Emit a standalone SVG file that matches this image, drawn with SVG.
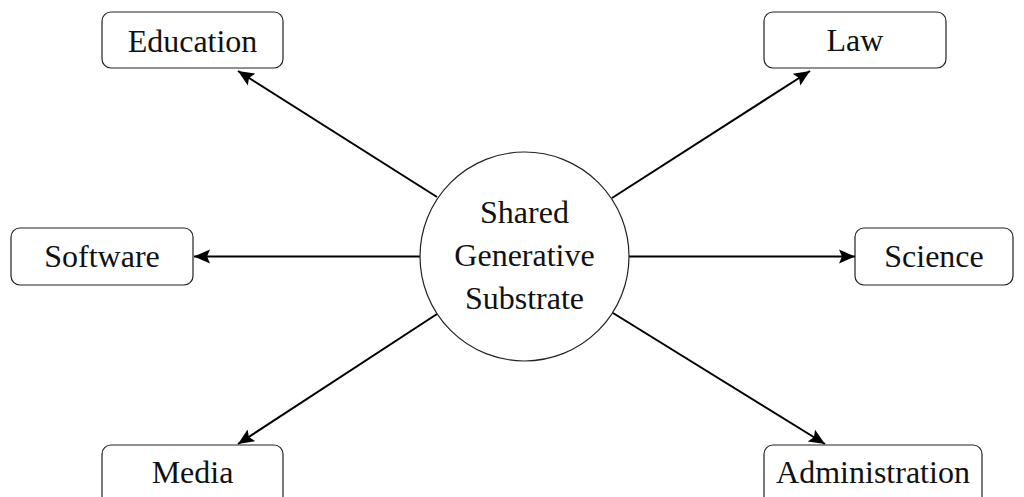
<svg xmlns="http://www.w3.org/2000/svg" width="1024" height="497" viewBox="0 0 1024 497">
<style>
.box{fill:#fff;stroke:#222;stroke-width:1.2}
.lbl{font-family:"Liberation Serif","Times New Roman",serif;font-size:32px;fill:#111;text-anchor:middle}
.edge{stroke:#000;stroke-width:2;fill:none;marker-end:url(#ah)}
</style>
<defs>
<marker id="ah" markerUnits="userSpaceOnUse" markerWidth="18" markerHeight="16" refX="16" refY="8" orient="auto">
<path d="M0,1 L16,8 L0,15 L3,8 Z" fill="#000"/>
</marker>
</defs>
<rect width="1024" height="497" fill="#fff"/>
<g id="connectors">
<line class="edge" x1="437" y1="197" x2="238" y2="71"/>
<line class="edge" x1="612" y1="198" x2="810" y2="71"/>
<line class="edge" x1="420" y1="256.5" x2="194" y2="256.5"/>
<line class="edge" x1="629" y1="256.5" x2="855" y2="256.5"/>
<line class="edge" x1="437" y1="314" x2="238" y2="444"/>
<line class="edge" x1="613" y1="313" x2="825" y2="444"/>
</g>
<g id="center">
<circle cx="524.5" cy="256.5" r="104.5" fill="#fff" stroke="#222" stroke-width="1.2"/>
<text class="lbl" x="524.5" y="223">Shared</text>
<text class="lbl" x="524.5" y="266">Generative</text>
<text class="lbl" x="524.5" y="309">Substrate</text>
</g>
<g id="education">
<rect class="box" x="102" y="12" width="181" height="56" rx="9"/>
<text class="lbl" x="192.5" y="52">Education</text>
</g>
<g id="law">
<rect class="box" x="764" y="12" width="182" height="56" rx="9"/>
<text class="lbl" x="855" y="51">Law</text>
</g>
<g id="software">
<rect class="box" x="11" y="228" width="182" height="57" rx="9"/>
<text class="lbl" x="102" y="267">Software</text>
</g>
<g id="science">
<rect class="box" x="855" y="228" width="158" height="57" rx="9"/>
<text class="lbl" x="934" y="267">Science</text>
</g>
<g id="media">
<rect class="box" x="102" y="445" width="181" height="60" rx="9"/>
<text class="lbl" x="192.5" y="483">Media</text>
</g>
<g id="administration">
<rect class="box" x="764" y="445" width="218" height="60" rx="9"/>
<text class="lbl" x="873" y="483">Administration</text>
</g>
</svg>
